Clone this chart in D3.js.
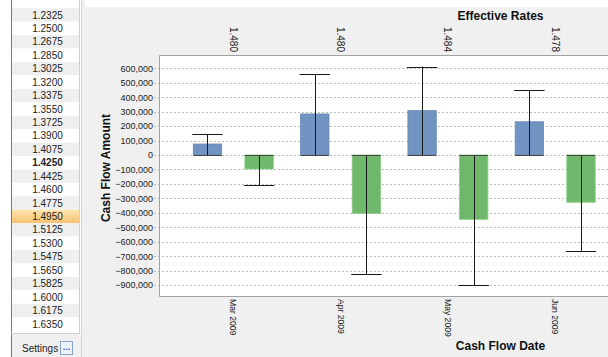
<!DOCTYPE html>
<html><head><meta charset="utf-8">
<script src="https://cdn.jsdelivr.net/npm/d3@7/dist/d3.min.js"></script>
<style>body{margin:0;background:#fff;}svg{display:block;}</style>
</head><body>
<svg id="c" width="608" height="357"></svg>
<script>
// ---- data ----
const categories = ["Mar 2009", "Apr 2009", "May 2009", "Jun 2009"];
const effectiveRates = ["1.480", "1.480", "1.484", "1.478"];
const inflowValues = [76000, 284000, 307000, 230000];
const inflowErrors = [143000, 560000, 612000, 450000];
const outflowValues = [-97000, -404000, -445000, -327000];
const outflowErrors = [-208000, -826000, -900000, -664000];
const yTicks = [600000, 500000, 400000, 300000, 200000, 100000, 0, -100000, -200000, -300000, -400000, -500000, -600000, -700000, -800000, -900000];
const rateList = ["1.2325","1.2500","1.2675","1.2850","1.3025","1.3200","1.3375","1.3550","1.3725","1.3900","1.4075","1.4250","1.4425","1.4600","1.4775","1.4950","1.5125","1.5300","1.5475","1.5650","1.5825","1.6000","1.6175","1.6350"];
const boldRate = "1.4250";
const selectedRate = "1.4950";

const svg = d3.select("#c");
const F = "'Liberation Sans', Arial, sans-serif";

// ---- left list panel ----
svg.append("rect").attr("x",0).attr("y",0).attr("width",82).attr("height",357).attr("fill","#ffffff");
svg.append("rect").attr("x",11).attr("y",334).attr("width",70).attr("height",23).attr("fill","#f0f0f0");
const rowH = 13.43, row0 = 8.3;
const rowY = d3.scaleLinear().domain([0,1]).range([row0, row0+rowH]);
const rows = svg.append("g");
rateList.forEach((r,i)=>{
  const fill = r===selectedRate ? "url(#sel)" : (i%2===0 ? "#efefef" : "#ffffff");
  rows.append("rect").attr("x",12).attr("y",rowY(i)).attr("width",67).attr("height",rowH).attr("fill",fill);
  rows.append("text").attr("x",47.5).attr("y",rowY(i)+rowH/2+3.6).attr("text-anchor","middle")
    .attr("font-family",F).attr("font-size","10px").attr("font-weight", r===boldRate?"bold":"normal")
    .attr("fill","#222").text(r);
});
const defs = svg.append("defs");
const lg = defs.append("linearGradient").attr("id","sel").attr("x1",0).attr("y1",0).attr("x2",0).attr("y2",1);
lg.append("stop").attr("offset","0%").attr("stop-color","#fde3ae");
lg.append("stop").attr("offset","100%").attr("stop-color","#f6c371");
svg.append("line").attr("x1",11.5).attr("x2",11.5).attr("y1",0).attr("y2",357).attr("stroke","#7a7a7a");
svg.append("line").attr("x1",79.5).attr("x2",79.5).attr("y1",0).attr("y2",334).attr("stroke","#d0d0d0");
svg.append("line").attr("x1",11).attr("x2",80).attr("y1",333.5).attr("y2",333.5).attr("stroke","#d0d0d0");
svg.append("text").attr("x",22).attr("y",352).attr("font-family",F).attr("font-size","10px").attr("fill","#222").text("Settings");
svg.append("rect").attr("x",60.5).attr("y",341.5).attr("width",12).attr("height",13).attr("fill","#eef3fa").attr("stroke","#8aa4c8");
svg.append("text").attr("x",66.5).attr("y",350).attr("text-anchor","middle").attr("font-family",F).attr("font-size","9px").attr("font-weight","bold").attr("fill","#3a5f9e").text("...");

// ---- chart panel ----
svg.append("rect").attr("x",82).attr("y",0).attr("width",526).attr("height",357).attr("fill","#f0f0f0");
svg.append("rect").attr("x",85).attr("y",0).attr("width",523).attr("height",7).attr("fill","#ffffff");
svg.append("line").attr("x1",81.5).attr("x2",81.5).attr("y1",0).attr("y2",357).attr("stroke","#d4d4d4");

const plot = {left:159, top:55, right:620, bottom:296};
svg.append("rect").attr("x",plot.left).attr("y",plot.top).attr("width",plot.right-plot.left).attr("height",plot.bottom-plot.top).attr("fill","#fff");

const y = d3.scaleLinear().domain([-975800, 692000]).range([plot.bottom, plot.top]);
const x0 = d3.scaleBand().domain(categories).range([179.65, 608.85]).paddingInner(0).paddingOuter(0);
const x1 = d3.scaleBand().domain(["in","out"]).range([13.65, 93.65]).paddingInner(0.45).paddingOuter(0);

// grid
const grid = svg.append("g");
yTicks.forEach(t=>{
  grid.append("line").attr("x1",plot.left-5).attr("x2",plot.right).attr("y1",Math.round(y(t))+0.5).attr("y2",Math.round(y(t))+0.5)
    .attr("stroke","#bdbdbd").attr("stroke-dasharray","2,2");
});
// y axis labels
const yAxis = d3.axisLeft(y).tickValues(yTicks).tickSize(0).tickPadding(6).tickFormat(d3.format(","));
const ya = svg.append("g").attr("transform",`translate(${plot.left},0)`).call(yAxis);
ya.select(".domain").remove();
ya.selectAll("text").attr("font-family",F).attr("font-size","9px").attr("fill","#222");

// bars
const data = categories.map((c,i)=>({c, rate:effectiveRates[i], vin:inflowValues[i], ein:inflowErrors[i], vout:outflowValues[i], eout:outflowErrors[i]}));
const g = svg.append("g");
data.forEach(d=>{
  const bx = x0(d.c);
  const series = [{k:"in", v:d.vin, e:d.ein, fill:"#7194c2", stroke:"#6687b6"},{k:"out", v:d.vout, e:d.eout, fill:"#70b96c", stroke:"#86cc80"}];
  series.forEach(s=>{
    const xl = bx + x1(s.k), w = x1.bandwidth();
    const yt = Math.min(y(s.v), y(0)), h = Math.abs(y(s.v)-y(0));
    g.append("rect").attr("x",xl).attr("y",yt).attr("width",w).attr("height",h).attr("fill",s.fill).attr("stroke",s.stroke).attr("stroke-width",0.8);
    const cx = Math.round(xl + w/2)+0.5;
    g.append("line").attr("x1",cx).attr("x2",cx).attr("y1",y(0)).attr("y2",y(s.e)).attr("stroke","#1a1a1a");
    g.append("line").attr("x1",xl-1).attr("x2",xl+w+1).attr("y1",Math.round(y(s.e))+0.5).attr("y2",Math.round(y(s.e))+0.5).attr("stroke","#1a1a1a");
    g.append("line").attr("x1",xl).attr("x2",xl+w).attr("y1",Math.round(y(0))+0.5).attr("y2",Math.round(y(0))+0.5).attr("stroke","#444");
  });
});

// plot border
svg.append("path").attr("d",`M${plot.right},${plot.top+0.5}H${plot.left+0.5}V${plot.bottom+0.5}H${plot.right}`).attr("fill","none").attr("stroke","#a3a3a3");

// bottom category labels
const xb = d3.axisBottom(x0).tickSize(0).tickPadding(0);
const xa = svg.append("g").attr("transform",`translate(0,${plot.bottom})`).call(xb);
xa.select(".domain").remove();
xa.selectAll("text").attr("font-family",F).attr("font-size","8.6px").attr("fill","#222")
  .attr("text-anchor","start").attr("transform","rotate(90)").attr("x",3).attr("y",0).attr("dy","0.35em");

// top rates labels
const xt = d3.axisTop(x0).tickSize(0).tickFormat((c,i)=>effectiveRates[i]);
const xta = svg.append("g").attr("transform",`translate(0,${plot.top})`).call(xt);
xta.select(".domain").remove();
xta.selectAll("text").attr("font-family",F).attr("font-size","10px").attr("fill","#222")
  .attr("text-anchor","end").attr("transform","rotate(90)").attr("x",-3).attr("y",0).attr("dy","0.35em");

// titles
svg.append("text").attr("x",500.5).attr("y",20).attr("text-anchor","middle").attr("font-family",F).attr("font-size","12px").attr("font-weight","bold").attr("fill","#111").text("Effective Rates");
svg.append("text").attr("x",500.5).attr("y",350).attr("text-anchor","middle").attr("font-family",F).attr("font-size","12px").attr("font-weight","bold").attr("fill","#111").text("Cash Flow Date");
svg.append("text").attr("transform","translate(110,168) rotate(-90)").attr("text-anchor","middle").attr("font-family",F).attr("font-size","12px").attr("font-weight","bold").attr("fill","#111").text("Cash Flow Amount");
</script>
</body></html>
